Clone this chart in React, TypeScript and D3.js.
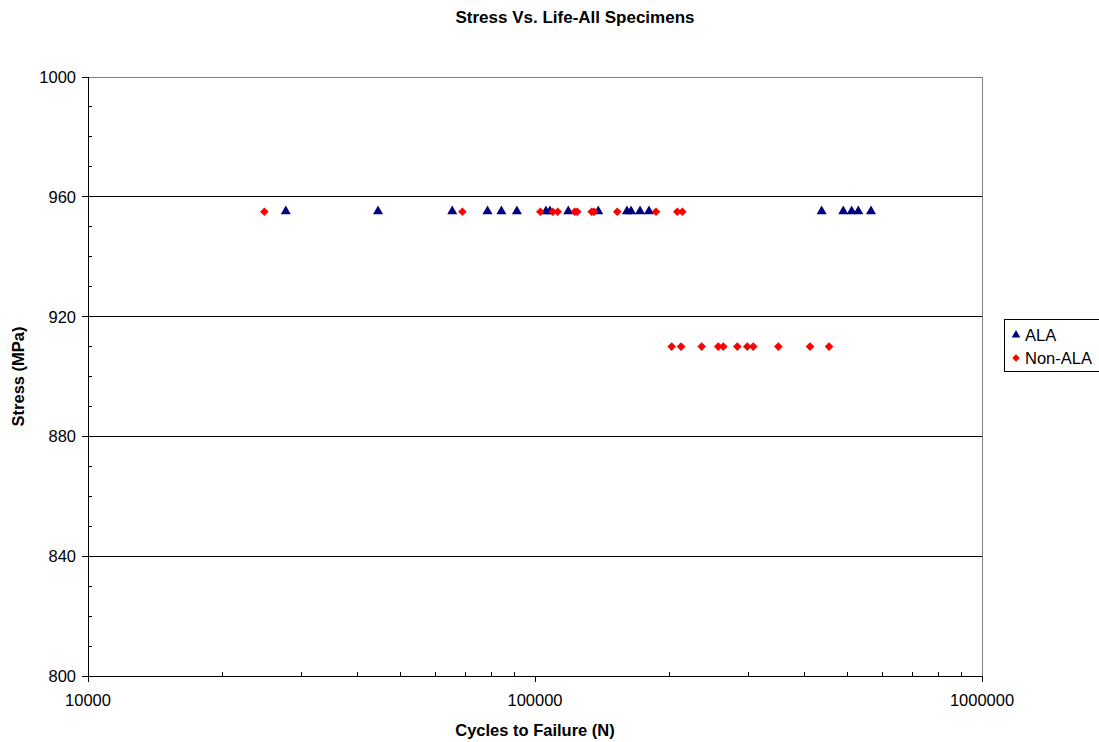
import React from "react";
import * as d3 from "d3";

const alaCycles = [27700, 44550, 65300, 78300, 84100, 91100, 105800, 108000, 118700, 138500, 160600, 164000, 171800, 179900, 437800, 489400, 511000, 528800, 564500];
const alaStress = alaCycles.map(() => 955);

const nonAlaCycles = [24800, 68800, 102800, 109600, 112400, 122700, 124300, 133900, 135500, 152800, 186500, 208200, 213600,
  202200, 212200, 236000, 257100, 263800, 283600, 298500, 307800, 350300, 412400, 454800];
const nonAlaStress = [955, 955, 955, 955, 955, 955, 955, 955, 955, 955, 955, 955, 955,
  910, 910, 910, 910, 910, 910, 910, 910, 910, 910, 910];

const xTicks = [10000, 100000, 1000000];
const yTicks = [800, 840, 880, 920, 960, 1000];
const yMinor = d3.range(800, 1001, 10);
const xMinor = [2, 3, 4, 5, 6, 7, 8, 9].flatMap((m) => [m * 10000, m * 100000]);

const W = 1099, H = 742;
const L = 88, R = 982, T = 77, B = 676;
const FONT = "Liberation Sans, Arial, sans-serif";
const FS = 16.5;

export default function App() {
  const x = d3.scaleLog().domain([10000, 1000000]).range([L, R]);
  const y = d3.scaleLinear().domain([800, 1000]).range([B, T]);
  const tri = d3.symbol().type(d3.symbolTriangle).size(44)() as string;
  const dia = d3.symbol().type(d3.symbolDiamond2).size(48)() as string;

  return (
    <svg width={W} height={H} style={{ position: "absolute", left: 0, top: 0, background: "#fff" }} fontFamily={FONT}>
      <text x={575} y={23} textAnchor="middle" fontSize={17} fontWeight="bold">Stress Vs. Life-All Specimens</text>
      {yTicks.filter((t) => t > 800).map((t) => (
        <line key={t} x1={L} x2={R} y1={y(t)} y2={y(t)} stroke={t === 1000 ? "#808080" : "#000"} strokeWidth={1} shapeRendering="crispEdges" />
      ))}
      <line x1={R} x2={R} y1={T} y2={B} stroke="#808080" shapeRendering="crispEdges" />
      <line x1={L} x2={L} y1={T} y2={B} stroke="#000" shapeRendering="crispEdges" />
      <line x1={L} x2={R} y1={B} y2={B} stroke="#000" shapeRendering="crispEdges" />
      {yTicks.map((t) => (
        <g key={t}>
          <line x1={L - 6} x2={L} y1={y(t)} y2={y(t)} stroke="#000" shapeRendering="crispEdges" />
          <text x={76} y={y(t) + 6} textAnchor="end" fontSize={FS}>{t}</text>
        </g>
      ))}
      {yMinor.filter((t) => t % 40 !== 0).map((t) => (
        <line key={t} x1={L} x2={L + 4} y1={y(t)} y2={y(t)} stroke="#000" shapeRendering="crispEdges" />
      ))}
      {xTicks.map((t) => (
        <g key={t}>
          <line x1={x(t)} x2={x(t)} y1={B} y2={B + 6} stroke="#000" shapeRendering="crispEdges" />
          <text x={x(t)} y={706} textAnchor="middle" fontSize={FS}>{t}</text>
        </g>
      ))}
      {xMinor.map((t) => (
        <line key={t} x1={x(t)} x2={x(t)} y1={B - 4} y2={B} stroke="#000" shapeRendering="crispEdges" />
      ))}
      <text x={535} y={736} textAnchor="middle" fontSize={FS} fontWeight="bold">Cycles to Failure (N)</text>
      <text transform={`translate(24,${(T + B) / 2}) rotate(-90)`} textAnchor="middle" fontSize={FS} fontWeight="bold">Stress (MPa)</text>
      {alaCycles.map((c, i) => (
        <path key={"a" + i} d={tri} transform={`translate(${x(c)},${y(alaStress[i]) - 0.5})`} fill="#000080" />
      ))}
      {nonAlaCycles.map((c, i) => (
        <path key={"n" + i} d={dia} transform={`translate(${x(c)},${y(nonAlaStress[i])})`} fill="#ff0000" />
      ))}
      <rect x={1004.5} y={319.5} width={100} height={52} fill="#fff" stroke="#000" />
      <path d={d3.symbol().type(d3.symbolTriangle).size(32)() as string} transform="translate(1016,335)" fill="#000080" />
      <text x={1025} y={341} fontSize={FS}>ALA</text>
      <path d={d3.symbol().type(d3.symbolDiamond2).size(36)() as string} transform="translate(1016,358)" fill="#ff0000" />
      <text x={1025} y={364} fontSize={FS}>Non-ALA</text>
    </svg>
  );
}
